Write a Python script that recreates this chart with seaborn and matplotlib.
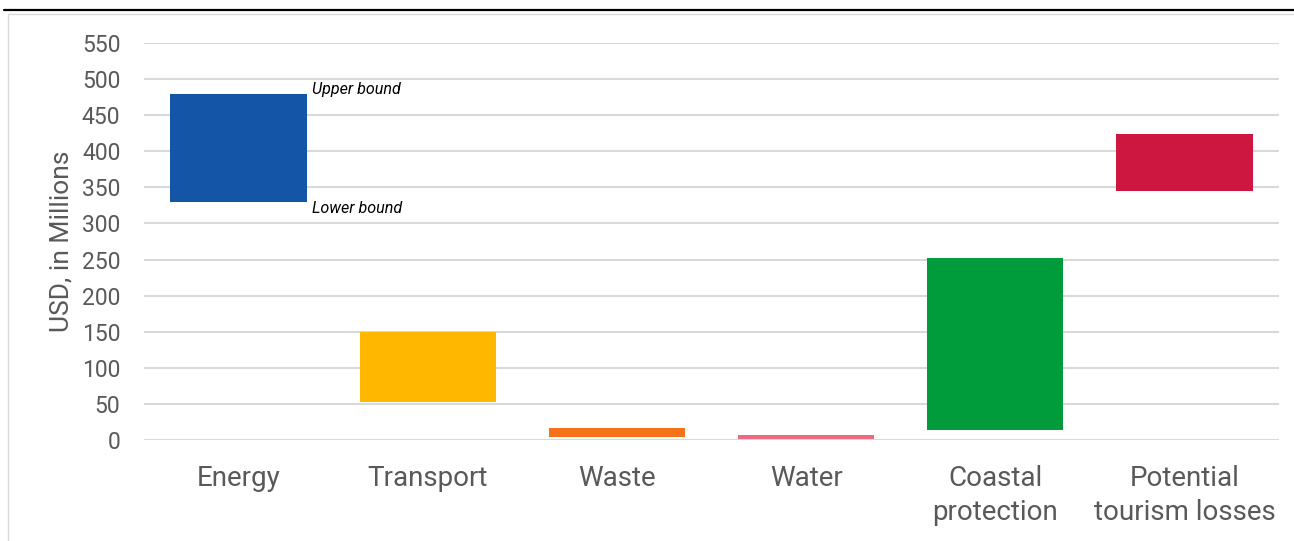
import matplotlib
matplotlib.use("Agg")
import matplotlib.pyplot as plt
import seaborn as sns
import pandas as pd
from matplotlib.lines import Line2D

categories = ["Energy", "Transport", "Waste", "Water", "Coastal\nprotection", "Potential\ntourism losses"]
lower = [330, 53, 4, 2, 14, 345]
upper = [480, 150, 16, 7, 252, 424]
colors = ["#1555A8", "#FFB700", "#F7711B", "#EE6A82", "#009C3B", "#CE1740"]
yticks = [0, 50, 100, 150, 200, 250, 300, 350, 400, 450, 500, 550]

sns.set_theme(style="white")
plt.rcParams['font.family'] = ['Roboto', 'DejaVu Sans']

df = pd.DataFrame({"cat": categories, "low": lower, "high": upper})
df["span"] = df["high"] - df["low"]

fig = plt.figure(figsize=(12.94, 5.41), dpi=100)
ax = fig.add_axes([144/1294, 1-440/541, (1279-144)/1294, (440-43)/541])

sns.barplot(data=df, x="cat", y="span", order=categories, bottom=df["low"].values,
            color=colors[0], width=0.72, ax=ax, saturation=1, linewidth=0, zorder=3)
for patch, c in zip(ax.patches, colors):
    patch.set_facecolor(c)

ax.set_ylim(0, 550)
ax.set_yticks(yticks)
ax.set_xlim(-0.5, len(categories) - 0.5)
ax.grid(axis="y", color="#D9D9D9", linewidth=1.5, zorder=0)
ax.set_axisbelow(True)
for s in ax.spines.values():
    s.set_visible(False)
ax.tick_params(axis="both", length=0, labelcolor="#595959")
ax.tick_params(axis="y", pad=17, labelsize=16.5)
ax.tick_params(axis="x", pad=18, labelsize=20)
for lbl in ax.get_xticklabels():
    lbl.set_linespacing(1.32)
ax.set_xlabel("")
ax.set_ylabel("USD, in Millions", fontsize=19, color="#595959", labelpad=6)

ax.annotate("Upper bound", xy=(0.36, upper[0]), xytext=(4, 3), textcoords="offset points",
            fontsize=11.6, style="italic", color="black", ha="left", va="center")
ax.annotate("Lower bound", xy=(0.36, lower[0]), xytext=(4, -4.5), textcoords="offset points",
            fontsize=11.6, style="italic", color="black", ha="left", va="center")

fig.add_artist(Line2D([4/1294, 1], [1-10/541, 1-10/541], color="black", linewidth=1.6,
                      transform=fig.transFigure))
fig.add_artist(Line2D([8/1294, 1], [1-14/541, 1-14/541], color="#D9D9D9", linewidth=1,
                      transform=fig.transFigure))
fig.add_artist(Line2D([8/1294, 8/1294], [0, 1-14/541], color="#D9D9D9", linewidth=1,
                      transform=fig.transFigure))

fig.savefig("out.png", dpi=100)
